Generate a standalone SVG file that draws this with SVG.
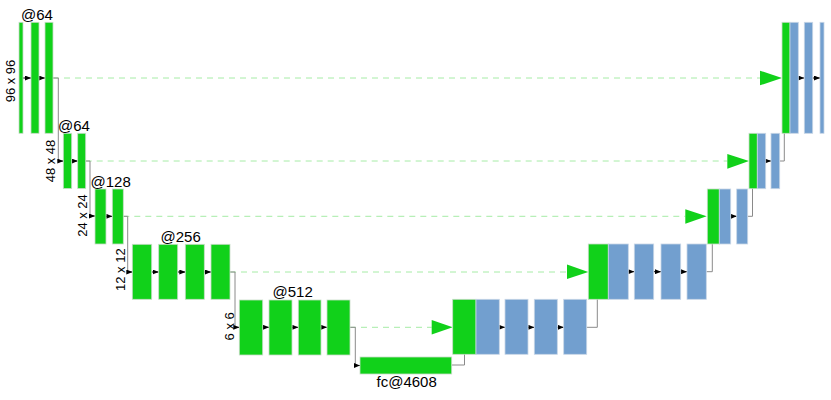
<svg xmlns="http://www.w3.org/2000/svg" width="831" height="400" viewBox="0 0 831 400">
<defs>
<style>
.g{fill:#11d11a;stroke:#c8dcc8;stroke-width:0.8}
.b{fill:#729fcf;stroke:#c8d6e6;stroke-width:0.8}
.c{fill:none;stroke:#8a8a8a;stroke-width:1}
.a{fill:none;stroke:#000;stroke-width:1}
.d{fill:none;stroke:#a6eca6;stroke-width:1;stroke-dasharray:6,5}
.t{font-family:"Liberation Sans",Arial,sans-serif;font-size:15px;fill:#000}
.r{font-family:"Liberation Sans",Arial,sans-serif;font-size:13px;fill:#000;text-anchor:middle}
.tri{fill:#11d11a}
</style>
<marker id="ah" markerUnits="userSpaceOnUse" markerWidth="6" markerHeight="5" refX="6" refY="2.5" orient="auto">
<path d="M0,0 L6,2.5 L0,5 z" fill="#000"/>
</marker>
</defs>
<rect width="831" height="400" fill="#fff"/>

<g id="connectors">
<!-- skip dashed lines -->
<path class="d" d="M53,78 H760"/>
<path class="d" d="M85.7,161 H727.3"/>
<path class="d" d="M123.3,216.3 H685.3"/>
<path class="d" d="M230,272 H567"/>
<path class="d" d="M350,327.3 H431.7"/>
<polygon class="tri" points="760,70.7 782,78 760,85.3"/>
<polygon class="tri" points="727.3,154 749,161 727.3,168.7"/>
<polygon class="tri" points="685.3,209.3 706.7,216.3 685.3,223.7"/>
<polygon class="tri" points="567,264.5 588.3,272 567,279"/>
<polygon class="tri" points="431.7,320 452.7,327.3 431.7,334.5"/>
<!-- encoder down connectors -->
<path class="c" d="M53,78 H58.3 V161 H60"/>
<path class="a" d="M58.3,161 H63.3" marker-end="url(#ah)"/>
<path class="c" d="M85.7,161 H90 V216 H92"/>
<path class="a" d="M90,216 H95" marker-end="url(#ah)"/>
<path class="c" d="M123.3,216.3 H127.7 V272 H129"/>
<path class="a" d="M127.7,272 H132.3" marker-end="url(#ah)"/>
<path class="c" d="M230,272 H235 V327.3 H236"/>
<path class="a" d="M235,327.3 H239.3" marker-end="url(#ah)"/>
<path class="c" d="M350,327.3 H355.3 V365.5 H356"/>
<path class="a" d="M355.3,365.5 H360" marker-end="url(#ah)"/>
<!-- encoder inner arrows -->
<path class="a" d="M23,78 H31" marker-end="url(#ah)"/>
<path class="a" d="M39,78 H45" marker-end="url(#ah)"/>
<path class="a" d="M71.7,161 H77.7" marker-end="url(#ah)"/>
<path class="a" d="M106,216.3 H112.3" marker-end="url(#ah)"/>
<path class="a" d="M151.7,272 H158.7" marker-end="url(#ah)"/>
<path class="a" d="M177.7,272 H185.3" marker-end="url(#ah)"/>
<path class="a" d="M204.3,272 H211" marker-end="url(#ah)"/>
<path class="a" d="M262.7,327.3 H269" marker-end="url(#ah)"/>
<path class="a" d="M292,327.3 H298.3" marker-end="url(#ah)"/>
<path class="a" d="M321,327.3 H327" marker-end="url(#ah)"/>
<!-- decoder up connectors -->
<path class="c" d="M451.7,365 H464.5 V327.3 H470"/>
<path class="a" d="M464.5,327.3 H476" marker-end="url(#ah)"/>
<path class="c" d="M586.7,327.3 H597.3 V271.7 H602"/>
<path class="a" d="M597.3,271.7 H608.3" marker-end="url(#ah)"/>
<path class="c" d="M706.3,271.7 H712.3 V216.3 H714"/>
<path class="a" d="M712.3,216.3 H719.3" marker-end="url(#ah)"/>
<path class="c" d="M747.7,216.3 H752.5 V161 H754"/>
<path class="a" d="M752.5,161 H757.3" marker-end="url(#ah)"/>
<path class="c" d="M779.7,161 H784.3 V78 H786"/>
<path class="a" d="M784.3,78 H790" marker-end="url(#ah)"/>
<!-- decoder inner arrows -->
<path class="a" d="M499.3,327.3 H505" marker-end="url(#ah)"/>
<path class="a" d="M528,327.3 H534.3" marker-end="url(#ah)"/>
<path class="a" d="M557.3,327.3 H563.7" marker-end="url(#ah)"/>
<path class="a" d="M628.3,271.7 H634.3" marker-end="url(#ah)"/>
<path class="a" d="M653.7,271.7 H661" marker-end="url(#ah)"/>
<path class="a" d="M680.7,271.7 H687" marker-end="url(#ah)"/>
<path class="a" d="M730.7,216.3 H736.7" marker-end="url(#ah)"/>
<path class="a" d="M765.7,161 H771" marker-end="url(#ah)"/>
<path class="a" d="M798.3,78 H804.3" marker-end="url(#ah)"/>
<path class="a" d="M812.7,78 H820" marker-end="url(#ah)"/>
</g>

<g id="enc1">
<rect class="g" x="19" y="22.3" width="4" height="111"/>
<rect class="g" x="31" y="22.3" width="8" height="111"/>
<rect class="g" x="45" y="22.3" width="8" height="111"/>
<text class="t" x="21" y="19.5">@64</text>
<text class="r" transform="translate(14.5,81) rotate(-90)">96 x 96</text>
</g>
<g id="enc2">
<rect class="g" x="63.3" y="133.3" width="8.4" height="55.2"/>
<rect class="g" x="77.7" y="133.3" width="8" height="55.2"/>
<text class="t" x="58" y="131">@64</text>
<text class="r" transform="translate(54.5,161) rotate(-90)">48 x 48</text>
</g>
<g id="enc3">
<rect class="g" x="95" y="189" width="11" height="55"/>
<rect class="g" x="112.3" y="189" width="11" height="55"/>
<text class="t" x="90.5" y="186.5">@128</text>
<text class="r" transform="translate(86.5,215.5) rotate(-90)">24 x 24</text>
</g>
<g id="enc4">
<rect class="g" x="132.3" y="244.3" width="19.4" height="55"/>
<rect class="g" x="158.7" y="244.3" width="19" height="55"/>
<rect class="g" x="185.3" y="244.3" width="19" height="55"/>
<rect class="g" x="211" y="244.3" width="19" height="55"/>
<text class="t" x="160.5" y="241.5">@256</text>
<text class="r" transform="translate(125,269.7) rotate(-90)">12 x 12</text>
</g>
<g id="enc5">
<rect class="g" x="239.3" y="300" width="23.4" height="55"/>
<rect class="g" x="269" y="300" width="23" height="55"/>
<rect class="g" x="298.3" y="300" width="22.7" height="55"/>
<rect class="g" x="327" y="300" width="23" height="55"/>
<text class="t" x="272.5" y="297.3">@512</text>
<text class="r" transform="translate(234,326.3) rotate(-90)">6 x 6</text>
</g>
<g id="fc">
<rect class="g" x="360" y="357" width="91.7" height="17"/>
<text class="t" x="376.5" y="387.3">fc@4608</text>
</g>
<g id="dec5">
<rect class="g" x="452.7" y="299.3" width="23.3" height="55"/>
<rect class="b" x="476" y="299.3" width="23.3" height="55"/>
<rect class="b" x="505" y="299.3" width="23" height="55"/>
<rect class="b" x="534.3" y="299.3" width="23" height="55"/>
<rect class="b" x="563.7" y="299.3" width="23" height="55"/>
</g>
<g id="dec4">
<rect class="g" x="588.3" y="244" width="20" height="55.3"/>
<rect class="b" x="608.3" y="244" width="20" height="55.3"/>
<rect class="b" x="634.3" y="244" width="19.4" height="55.3"/>
<rect class="b" x="661" y="244" width="19.7" height="55.3"/>
<rect class="b" x="687" y="244" width="19.3" height="55.3"/>
</g>
<g id="dec3">
<rect class="g" x="707.3" y="189" width="12" height="55"/>
<rect class="b" x="719.3" y="189" width="11.4" height="55"/>
<rect class="b" x="736.7" y="189" width="11" height="55"/>
</g>
<g id="dec2">
<rect class="g" x="749" y="133.3" width="8.3" height="55.4"/>
<rect class="b" x="757.3" y="133.3" width="8.4" height="55.4"/>
<rect class="b" x="771" y="133.3" width="8.7" height="55.4"/>
</g>
<g id="dec1">
<rect class="g" x="782" y="22.3" width="8" height="111"/>
<rect class="b" x="790" y="22.3" width="8.3" height="111"/>
<rect class="b" x="804.3" y="22.3" width="8.4" height="111"/>
<rect class="b" x="820" y="22.3" width="4" height="111"/>
</g>
</svg>
